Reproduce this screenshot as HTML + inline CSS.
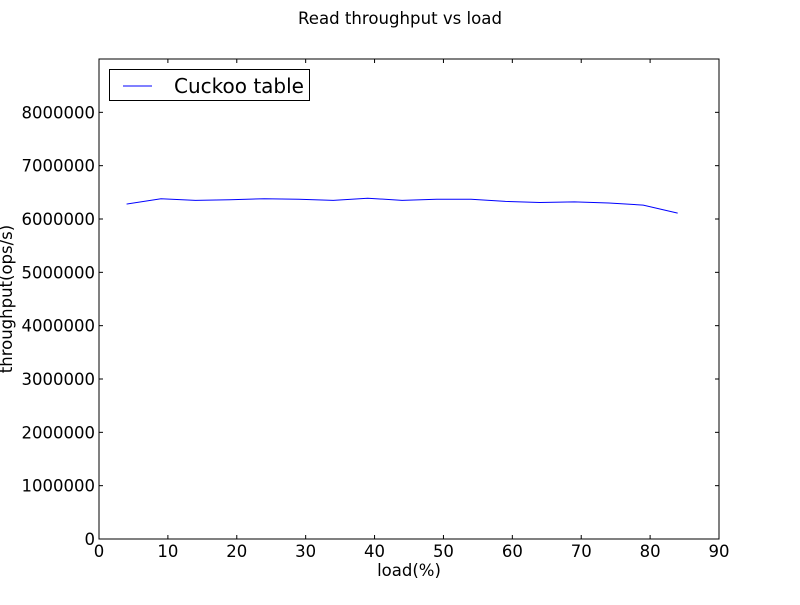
<!DOCTYPE html>
<html><head><meta charset="utf-8"><style>
body{margin:0;background:#fff;}
svg text{font-family:"DejaVu Sans","Liberation Sans",sans-serif;}
</style></head><body>
<svg id="chart" width="800" height="600" xmlns="http://www.w3.org/2000/svg">
<rect width="800" height="600" fill="#fff"/>
<text x="400" y="24" font-size="16.5" text-anchor="middle" textLength="204" lengthAdjust="spacingAndGlyphs">Read throughput vs load</text>
<g id="ticks"></g>
<rect x="99" y="59" width="620" height="480" fill="none" stroke="#000" stroke-width="1"/>
<text x="409" y="576" font-size="16.5" text-anchor="middle">load(%)</text>
<text transform="translate(12,299) rotate(-90)" font-size="16.5" text-anchor="middle">throughput(ops/s)</text>
<path id="line" fill="none" stroke="#0000ff" stroke-width="1"/>
<g>
<rect x="109.5" y="69.5" width="200" height="31" fill="#fff" stroke="#000"/>
<line x1="123" y1="86" x2="152" y2="86" stroke="#0000ff"/>
<text x="174" y="93" font-size="20">Cuckoo table</text>
</g>
</svg>
<script>
const loads=[4,9,14,19,24,29,34,39,44,49,54,59,64,69,74,79,84];
const throughput=[6280000,6380000,6350000,6360000,6380000,6370000,6350000,6390000,6350000,6370000,6370000,6330000,6310000,6320000,6300000,6260000,6110000];
const xTicks=[0,10,20,30,40,50,60,70,80,90];
const yTicks=[0,1000000,2000000,3000000,4000000,5000000,6000000,7000000,8000000];
const X=v=>99+v/90*620, Y=v=>539-v/9000000*480;
const ns="http://www.w3.org/2000/svg";
const g=document.getElementById('ticks');
function mk(t,a){const e=document.createElementNS(ns,t);for(const k in a)e.setAttribute(k,a[k]);return e;}
xTicks.forEach(t=>{const x=X(t);
 const l1=mk('line',{x1:x,y1:539,x2:x,y2:535,stroke:'#000'});
 
 g.appendChild(l1);
 const l2=mk('line',{x1:x,y1:59,x2:x,y2:63,stroke:'#000'});
 
 g.appendChild(l2);
 const tx=mk('text',{x:x,y:557,'font-size':16.5,'text-anchor':'middle'});tx.textContent=t;
 
 g.appendChild(tx);});
yTicks.forEach(t=>{const y=Y(t);
 const l1=mk('line',{x1:99,y1:y,x2:103,y2:y,stroke:'#000'});
 
 g.appendChild(l1);
 const l2=mk('line',{x1:719,y1:y,x2:715,y2:y,stroke:'#000'});
 
 g.appendChild(l2);
 const tx=mk('text',{x:95,y:y+6,'font-size':16.5,'text-anchor':'end'});tx.textContent=t;
 
 g.appendChild(tx);});
document.getElementById('line').setAttribute('d',loads.map((v,i)=>(i?'L':'M')+X(v)+' '+Y(throughput[i])).join(' '));
</script>
</body></html>
